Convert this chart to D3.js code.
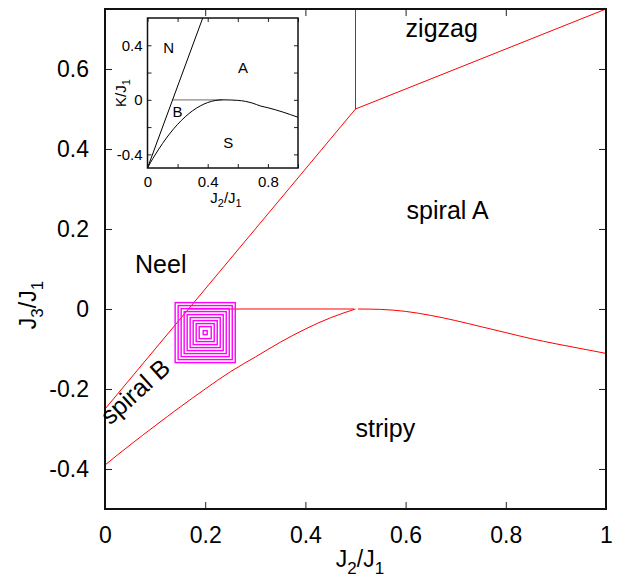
<!DOCTYPE html>
<html>
<head>
<meta charset="utf-8">
<script src="https://cdn.jsdelivr.net/npm/d3@7"></script>
<style>
    body { margin: 0; background: #fff; }
    svg text { font-family: "Liberation Sans", Arial, sans-serif; fill: #000; }
</style>
</head>
<body>
<svg width="623" height="579"></svg>
<script>
// main phase diagram boundaries (J2/J1, J3/J1)
const neelBoundary = [[0, -0.25], [0.5, 0.5]];
const zigzagBoundary = [[0.5, 0.5], [1, 0.75]];
const zigzagVertical = [[0.5, 0.5], [0.5, 0.75]];
const spiralFlat = [[0.167, 0], [0.497, 0]];
const stripyLeft = [[0, -0.39], [0.05, -0.34], [0.1, -0.292], [0.15, -0.245], [0.2, -0.2], [0.25, -0.157],
    [0.3, -0.12], [0.35, -0.083], [0.4, -0.05], [0.45, -0.022], [0.5, 0]];
const stripyRight = [[0.505, 0], [0.55, -0.001], [0.6, -0.006], [0.65, -0.016], [0.7, -0.029], [0.75, -0.044],
    [0.8, -0.059], [0.85, -0.074], [0.9, -0.087], [0.95, -0.099], [1, -0.111]];

// magenta squares around the multicritical point
const squareCenter = [0.2, -0.059];
const squareHalfX = [0.06, 0.054, 0.048, 0.042, 0.036, 0.03, 0.024, 0.018, 0.012, 0.004];
const squareHalfY = [0.075, 0.0675, 0.06, 0.0525, 0.045, 0.0375, 0.03, 0.0225, 0.015, 0.005];

const xTicks = [0, 0.2, 0.4, 0.6, 0.8, 1];
const yTicks = [-0.4, -0.2, 0, 0.2, 0.4, 0.6];

// inset (J2/J1, K/J1)
const insetNeel = [[0, -0.5], [0.367, 0.6]];
const insetFlat = [[0.167, 0], [0.5, 0]];
const insetLower = [[0, -0.5], [0.02, -0.46], [0.05, -0.405], [0.1, -0.32], [0.15, -0.245], [0.2, -0.18],
    [0.25, -0.125], [0.3, -0.08], [0.35, -0.045], [0.4, -0.02], [0.45, -0.005], [0.5, 0]];
const insetRight = [[0.5, 0], [0.6, -0.004], [0.7, -0.025], [0.75, -0.045], [0.8, -0.058], [0.9, -0.09], [1, -0.128]];
const insetXTicks = [0, 0.2, 0.4, 0.6, 0.8, 1];
const insetXLabels = [0, 0.4, 0.8];
const insetYTicks = [-0.4, -0.2, 0, 0.2, 0.4];
const insetYLabels = [-0.4, 0, 0.4];

const phaseLabels = [
    {text: 'zigzag', x: 0.6, y: 0.68},
    {text: 'spiral A', x: 0.602, y: 0.225},
    {text: 'Neel', x: 0.06, y: 0.09},
    {text: 'stripy', x: 0.5, y: -0.32}
];
const insetLabels = [
    {text: 'N', x: 0.14, y: 0.343},
    {text: 'A', x: 0.635, y: 0.196},
    {text: 'B', x: 0.2, y: -0.126},
    {text: 'S', x: 0.537, y: -0.353}
];

let svg = d3.select('svg');

let x = d3.scaleLinear([0, 1], [105, 606]);
let y = d3.scaleLinear([-0.5, 0.75], [509, 9]);

let line = d3.line()
    .x(function (d) { return x(d[0]); })
    .y(function (d) { return y(d[1]); });
let smooth = d3.line()
    .x(function (d) { return x(d[0]); })
    .y(function (d) { return y(d[1]); })
    .curve(d3.curveMonotoneX);

function axes(g, xs, ys, xt, yt, xl, yl, tick, pad, fs) {
    // plain hyphen minus, like the reference
    let fmt = function (v) { return String(+v.toFixed(2)); };
    let b = g.append('g').attr('transform', 'translate(0,' + ys.range()[0] + ')')
        .call(d3.axisBottom(xs).tickValues(xt).tickSize(-tick).tickPadding(pad[0])
            .tickFormat(function (v) { return xl.indexOf(v) >= 0 ? fmt(v) : ''; }));
    let t = g.append('g').attr('transform', 'translate(0,' + ys.range()[1] + ')')
        .call(d3.axisTop(xs).tickValues(xt).tickSize(-tick).tickFormat(''));
    let l = g.append('g').attr('transform', 'translate(' + xs.range()[0] + ',0)')
        .call(d3.axisLeft(ys).tickValues(yt).tickSize(-tick).tickPadding(pad[1])
            .tickFormat(function (v) { return yl.indexOf(v) >= 0 ? fmt(v) : ''; }));
    let r = g.append('g').attr('transform', 'translate(' + xs.range()[1] + ',0)')
        .call(d3.axisRight(ys).tickValues(yt).tickSize(-tick).tickFormat(''));
    [b, t, l, r].forEach(function (a) {
        a.select('.domain').remove();
        a.selectAll('line').attr('stroke', '#222').attr('stroke-width', 1);
        a.selectAll('text').style('font-size', fs + 'px').attr('font-family', null);
    });
    g.append('rect')
        .attr('x', xs.range()[0]).attr('y', ys.range()[1])
        .attr('width', xs.range()[1] - xs.range()[0])
        .attr('height', ys.range()[0] - ys.range()[1])
        .attr('fill', 'none').attr('stroke', '#111').attr('stroke-width', fs > 18 ? 2 : 1.5);
}

// main plot lines
let main = svg.append('g');
[neelBoundary, zigzagBoundary, spiralFlat].forEach(function (d) {
    main.append('path').attr('d', line(d)).attr('fill', 'none').attr('stroke', '#ff0000').attr('stroke-width', 1);
});
main.append('path').attr('d', line(zigzagVertical)).attr('fill', 'none').attr('stroke', '#c00000').attr('stroke-width', 0.9);
[stripyLeft, stripyRight].forEach(function (d) {
    main.append('path').attr('d', smooth(d)).attr('fill', 'none').attr('stroke', '#ff0000').attr('stroke-width', 1);
});

main.selectAll('rect.sq')
    .data(squareHalfX)
    .enter()
    .append('rect')
    .attr('class', 'sq')
    .attr('x', function (d) { return x(squareCenter[0] - d); })
    .attr('y', function (d, i) { return y(squareCenter[1] + squareHalfY[i]); })
    .attr('width', function (d) { return x(squareCenter[0] + d) - x(squareCenter[0] - d); })
    .attr('height', function (d, i) { return y(squareCenter[1] - squareHalfY[i]) - y(squareCenter[1] + squareHalfY[i]); })
    .attr('fill', 'none')
    .attr('stroke', '#ff00ff')
    .attr('stroke-width', 1.4);

axes(main, x, y, xTicks, yTicks, xTicks, yTicks, 7, [18, 16], 23);

main.selectAll('text.phase')
    .data(phaseLabels)
    .enter()
    .append('text')
    .attr('class', 'phase')
    .attr('x', function (d) { return x(d.x); })
    .attr('y', function (d) { return y(d.y); })
    .style('font-size', '25px')
    .text(function (d) { return d.text; });

main.append('text')
    .attr('transform', 'translate(' + x(0.01) + ',' + y(-0.292) + ') rotate(-42)')
    .style('font-size', '25px')
    .text('spiral B');

// axis titles
let xt = main.append('text').attr('x', 360).attr('y', 567).attr('text-anchor', 'middle').style('font-size', '23px');
xt.append('tspan').text('J');
xt.append('tspan').attr('dy', 7).style('font-size', '17px').text('2');
xt.append('tspan').attr('dy', -7).text('/J');
xt.append('tspan').attr('dy', 7).style('font-size', '17px').text('1');

let yt = main.append('text').attr('transform', 'translate(36,305) rotate(-90)').attr('text-anchor', 'middle').style('font-size', '23px');
yt.append('tspan').text('J');
yt.append('tspan').attr('dy', 7).style('font-size', '17px').text('3');
yt.append('tspan').attr('dy', -7).text('/J');
yt.append('tspan').attr('dy', 7).style('font-size', '17px').text('1');

// inset
let ix = d3.scaleLinear([0, 1], [147.5, 298]);
let iy = d3.scaleLinear([-0.5, 0.6], [168, 18]);
let iline = d3.line()
    .x(function (d) { return ix(d[0]); })
    .y(function (d) { return iy(d[1]); });
let ismooth = d3.line()
    .x(function (d) { return ix(d[0]); })
    .y(function (d) { return iy(d[1]); })
    .curve(d3.curveMonotoneX);

let inset = svg.append('g');
inset.append('rect').attr('x', 147.5).attr('y', 18).attr('width', 150.5).attr('height', 150).attr('fill', '#fff');
inset.append('path').attr('d', iline(insetFlat)).attr('fill', 'none').attr('stroke', '#888').attr('stroke-width', 1.3);
inset.append('path').attr('d', iline(insetNeel)).attr('fill', 'none').attr('stroke', '#000').attr('stroke-width', 1);
[insetLower, insetRight].forEach(function (d) {
    inset.append('path').attr('d', ismooth(d)).attr('fill', 'none').attr('stroke', '#000').attr('stroke-width', 1);
});

axes(inset, ix, iy, insetXTicks, insetYTicks, insetXLabels, insetYLabels, 4, [8, 5], 15);

inset.selectAll('text.phase')
    .data(insetLabels)
    .enter()
    .append('text')
    .attr('class', 'phase')
    .attr('x', function (d) { return ix(d.x); })
    .attr('y', function (d) { return iy(d.y); })
    .attr('text-anchor', 'middle')
    .style('font-size', '15px')
    .text(function (d) { return d.text; });

let ixt = inset.append('text').attr('x', 226).attr('y', 203).attr('text-anchor', 'middle').style('font-size', '15px');
ixt.append('tspan').text('J');
ixt.append('tspan').attr('dy', 4).style('font-size', '11px').text('2');
ixt.append('tspan').attr('dy', -4).text('/J');
ixt.append('tspan').attr('dy', 4).style('font-size', '11px').text('1');

let iyt = inset.append('text').attr('transform', 'translate(126,93) rotate(-90)').attr('text-anchor', 'middle').style('font-size', '15px');
iyt.append('tspan').text('K/J');
iyt.append('tspan').attr('dy', 4).style('font-size', '11px').text('1');
</script>
</body>
</html>
